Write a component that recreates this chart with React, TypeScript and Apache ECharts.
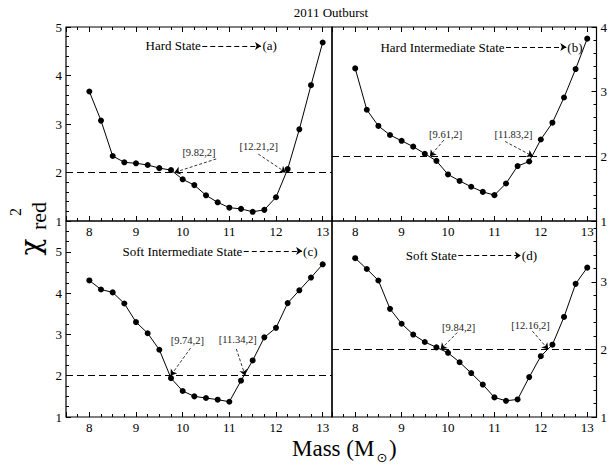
import React, { useEffect, useRef } from "react";
import * as echarts from "echarts";

// ---------- data ----------
const masses = [8, 8.25, 8.5, 8.75, 9, 9.25, 9.5, 9.75, 10, 10.25, 10.5, 10.75, 11, 11.25, 11.5, 11.75, 12, 12.25, 12.5, 12.75, 13];
const hardState = [3.67, 3.07, 2.34, 2.21, 2.19, 2.155, 2.09, 2.05, 1.86, 1.74, 1.53, 1.385, 1.275, 1.25, 1.19, 1.23, 1.49, 2.07, 2.89, 3.8, 4.68];
const hardIntermediate = [3.36, 2.72, 2.47, 2.33, 2.24, 2.15, 2.04, 1.93, 1.72, 1.62, 1.53, 1.45, 1.4, 1.58, 1.85, 1.92, 2.26, 2.52, 2.91, 3.35, 3.82];
const softIntermediate = [4.31, 4.09, 4.02, 3.75, 3.3, 3.03, 2.63, 1.94, 1.63, 1.5, 1.46, 1.42, 1.37, 1.88, 2.37, 2.93, 3.16, 3.76, 4.07, 4.38, 4.7];
const softState = [3.35, 3.19, 3.02, 2.6, 2.38, 2.22, 2.11, 2.03, 1.95, 1.81, 1.65, 1.48, 1.29, 1.24, 1.26, 1.59, 1.9, 2.07, 2.48, 2.97, 3.21];
const threshold = 2;
const hardCrossings = [9.82, 12.21];
const hardIntCrossings = [9.61, 11.83];
const softIntCrossings = [9.74, 11.34];
const softCrossings = [9.84, 12.16];
const stateNames = ["Hard State", "Hard Intermediate State", "Soft Intermediate State", "Soft State"];
const stateTags = ["(a)", "(b)", "(c)", "(d)"];
const titleText = "2011 Outburst";
const xAxisName = "Mass (M";
const xAxisSub = "\u2299";

const font = "'Liberation Serif', 'Times New Roman', serif";
const xMin = 7.5;
const xMax = 13.2;

// ---------- layout (positions in data coords / pixels) ----------
const panels = [
  {
    values: hardState, crossings: hardCrossings,
    grid: { left: 66, top: 27, width: 266, height: 194 },
    yMin: 1, yMax: 5, yMinor: 0.2, side: "left", topTicks: true,
    stateEnd: [10.4, 4.61], arrowTo: 11.68, tagStart: 11.7,
    crossText: [[10.35, 2.42], [11.63, 2.53]],
    crossFrom: [[10.72, 2.28], [11.62, 2.38]],
  },
  {
    values: hardIntermediate, crossings: hardIntCrossings,
    grid: { left: 332, top: 27, width: 265, height: 194 },
    yMin: 1, yMax: 4, yMinor: 0.2, side: "right", topTicks: true,
    stateEnd: [11.23, 3.69], arrowTo: 12.55, tagStart: 12.56,
    crossText: [[9.95, 2.34], [11.41, 2.34]],
    crossFrom: [[9.91, 2.25], [11.23, 2.23]],
  },
  {
    values: softIntermediate, crossings: softIntCrossings,
    grid: { left: 66, top: 221, width: 266, height: 196 },
    yMin: 1, yMax: 5.75, yMinor: 0.25, side: "left", topTicks: false,
    stateEnd: [11.29, 5.02], arrowTo: 12.56, tagStart: 12.57,
    crossText: [[10.1, 2.85], [11.18, 2.87]],
    crossFrom: [[10.17, 2.67], [11.15, 2.65]],
  },
  {
    values: softState, crossings: softCrossings,
    grid: { left: 332, top: 221, width: 265, height: 196 },
    yMin: 1, yMax: 3.9, yMinor: 0.2, side: "right", topTicks: false,
    stateEnd: [10.2, 3.39], arrowTo: 11.57, tagStart: 11.58,
    crossText: [[10.23, 2.33], [11.78, 2.36]],
    crossFrom: [[10.2, 2.25], [11.82, 2.27]],
  },
];

const intLabel = (v: number) => (Math.abs(v - Math.round(v)) < 1e-6 ? String(Math.round(v)) : "");

function buildOption() {
  const grid: any[] = [];
  const xAxis: any[] = [];
  const yAxis: any[] = [];
  const series: any[] = [];
  const labelStyle = { color: "#000", fontSize: 13, fontFamily: font };

  panels.forEach((p, i) => {
    grid.push({ ...p.grid, show: true, borderColor: "#000", borderWidth: 1.2, backgroundColor: "transparent" });
    const xMajor = xAxis.length;
    xAxis.push({
      type: "value", gridIndex: i, min: xMin, max: xMax, minInterval: 1, maxInterval: 1, splitNumber: 6,
      position: "bottom", axisLine: { show: false },
      axisTick: { show: true, inside: true, length: 5, lineStyle: { color: "#000", width: 1 } },
      axisLabel: { ...labelStyle, show: true, showMinLabel: true, showMaxLabel: true, margin: 4, formatter: intLabel },
      splitLine: { show: false },
    });
    xAxis.push({
      type: "value", gridIndex: i, min: xMin, max: xMax, interval: 0.25, position: "bottom",
      axisLine: { show: false },
      axisTick: { show: true, inside: true, length: 3, lineStyle: { color: "#000", width: 1 } },
      axisLabel: { show: false }, splitLine: { show: false },
    });
    if (p.topTicks) {
      xAxis.push({
        type: "value", gridIndex: i, min: xMin, max: xMax, minInterval: 1, maxInterval: 1, splitNumber: 6,
        position: "top", axisLine: { show: false },
        axisTick: { show: true, inside: true, length: 5, lineStyle: { color: "#000", width: 1 } },
        axisLabel: { show: false }, splitLine: { show: false },
      });
      xAxis.push({
        type: "value", gridIndex: i, min: xMin, max: xMax, interval: 0.25, position: "top",
        axisLine: { show: false },
        axisTick: { show: true, inside: true, length: 3, lineStyle: { color: "#000", width: 1 } },
        axisLabel: { show: false }, splitLine: { show: false },
      });
    }
    const yMajor = yAxis.length;
    yAxis.push({
      type: "value", gridIndex: i, min: p.yMin, max: p.yMax, interval: 1, position: p.side,
      axisLine: { show: false },
      axisTick: { show: true, inside: true, length: 5, lineStyle: { color: "#000", width: 1 } },
      axisLabel: { ...labelStyle, show: true, showMinLabel: true, showMaxLabel: true, margin: 4, formatter: intLabel },
      splitLine: { show: false },
    });
    yAxis.push({
      type: "value", gridIndex: i, min: p.yMin, max: p.yMax, interval: p.yMinor, position: p.side,
      axisLine: { show: false },
      axisTick: { show: true, inside: true, length: 3, lineStyle: { color: "#000", width: 1 } },
      axisLabel: { show: false }, splitLine: { show: false },
    });

    const arrowStyle = { color: "#000", width: 0.8, type: [3, 2] };
    const markLineData: any[] = [
      { yAxis: threshold, lineStyle: { color: "#000", width: 1, type: [7, 4] } },
      [
        { coord: [p.stateEnd[0] + 0.02, p.stateEnd[1]], symbol: "none", lineStyle: { color: "#000", width: 1, type: [5, 3] } },
        { coord: [p.arrowTo, p.stateEnd[1]], symbol: "arrow", symbolSize: 6, lineStyle: { color: "#000", width: 1, type: [5, 3] } },
      ],
    ];
    p.crossings.forEach((c, k) => {
      markLineData.push([
        { coord: p.crossFrom[k], symbol: "none", lineStyle: arrowStyle },
        { coord: [c, threshold], symbol: "arrow", symbolSize: 6, lineStyle: arrowStyle },
      ]);
    });

    const mpLabel = { show: true, color: "#000", fontFamily: font };
    const markPointData: any[] = [
      { coord: p.stateEnd, label: { ...mpLabel, position: "left", distance: 0, fontSize: 13, formatter: stateNames[i] } },
      { coord: [p.tagStart, p.stateEnd[1]], label: { ...mpLabel, position: "right", distance: 0, fontSize: 13, formatter: stateTags[i] } },
    ];
    p.crossings.forEach((c, k) => {
      markPointData.push({
        coord: p.crossText[k],
        label: { ...mpLabel, position: "inside", fontSize: 10.5, color: "#222", formatter: `[${c},${threshold}]` },
      });
    });

    series.push({
      type: "line", xAxisIndex: xMajor, yAxisIndex: yMajor,
      data: masses.map((m, k) => [m, p.values[k]]),
      symbol: "circle", symbolSize: 6, showSymbol: true,
      itemStyle: { color: "#000" }, lineStyle: { color: "#000", width: 1 },
      silent: true,
      markLine: { silent: true, symbol: ["none", "none"], symbolSize: 6, label: { show: false }, data: markLineData },
      markPoint: { silent: true, symbol: "circle", symbolSize: 1, itemStyle: { color: "rgba(0,0,0,0)" }, data: markPointData },
    });
  });

  const graphic: any[] = [
    { type: "text", x: 331, y: 12, style: { text: titleText, fontSize: 13, fontFamily: font, fill: "#000", align: "center", verticalAlign: "middle" } },
    { type: "text", x: 292, y: 448, style: { text: xAxisName, fontSize: 23, fontFamily: font, fill: "#000", align: "left", verticalAlign: "middle" } },
    { type: "text", x: 382, y: 457, style: { text: xAxisSub, fontSize: 13, fontFamily: "'DejaVu Sans', sans-serif", fill: "#000", align: "center", verticalAlign: "middle" } },
    { type: "text", x: 389, y: 448, style: { text: ")", fontSize: 23, fontFamily: font, fill: "#000", align: "left", verticalAlign: "middle" } },
    { type: "text", x: 30, y: 247, rotation: Math.PI / 2, style: { text: "\u03c7", fontSize: 28, fontFamily: "'DejaVu Serif', serif", fill: "#000", align: "center", verticalAlign: "middle" } },
    { type: "text", x: 38, y: 216, rotation: Math.PI / 2, style: { text: "red", fontSize: 22, fontFamily: font, fill: "#000", align: "center", verticalAlign: "middle" } },
    { type: "text", x: 15, y: 212, rotation: Math.PI / 2, style: { text: "2", fontSize: 16, fontFamily: font, fill: "#000", align: "center", verticalAlign: "middle" } },
  ];

  return { animation: false, backgroundColor: "#fff", grid, xAxis, yAxis, series, graphic };
}

export default function App() {
  const ref = useRef<HTMLDivElement>(null);
  useEffect(() => {
    if (!ref.current) return;
    const chart = echarts.init(ref.current, undefined, { renderer: "svg" });
    chart.setOption(buildOption() as any);
    return () => chart.dispose();
  }, []);
  return <div ref={ref} style={{ position: "absolute", left: 0, top: 0, width: 610, height: 467 }} />;
}
